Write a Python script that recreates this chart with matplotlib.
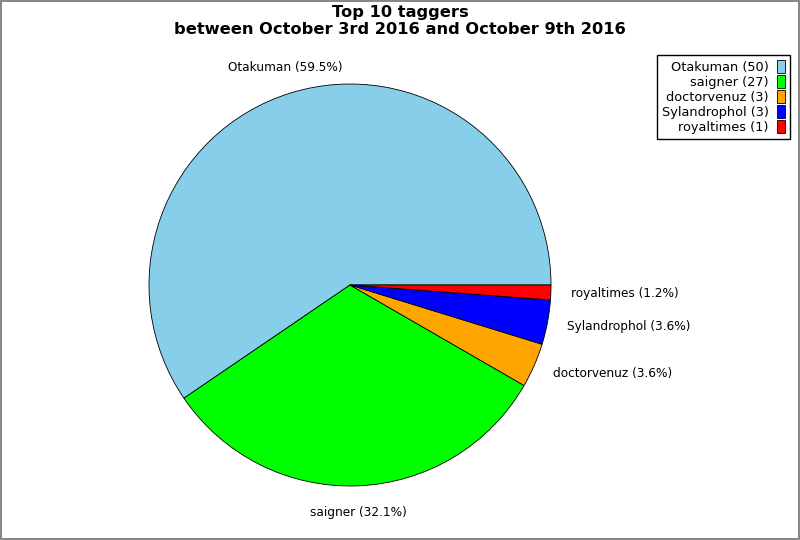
import matplotlib
matplotlib.use("Agg")
import matplotlib.pyplot as plt

names = ["Otakuman", "saigner", "doctorvenuz", "Sylandrophol", "royaltimes"]
counts = [50, 27, 3, 3, 1]
colors = ["#87CEEB", "#00FF00", "#FFA500", "#0000FF", "#FF0000"]
title = "Top 10 taggers\nbetween October 3rd 2016 and October 9th 2016"

total = sum(counts)
labels = [f"{n} ({c / total * 100:.1f}%)" for n, c in zip(names, counts)]
legend_labels = [f"{n} ({c})" for n, c in zip(names, counts)]

fig = plt.figure(figsize=(8, 5.4), dpi=100)
fig.patch.set_edgecolor("#888888")
fig.patch.set_linewidth(1.5)

ax = fig.add_axes([149 / 800, 54 / 540, 402 / 800, 402 / 540])
wedges, texts = ax.pie(counts, labels=labels, colors=colors, startangle=0,
                       counterclock=True, labeldistance=1.1,
                       wedgeprops=dict(edgecolor="black", linewidth=0.6),
                       textprops=dict(fontsize=8.7))
ax.set_xlim(-1, 1)
ax.set_ylim(-1, 1)
ax.set_aspect("equal")

texts[0].set_ha("center")
texts[0].set_va("bottom")
texts[1].set_ha("center")
texts[1].set_va("top")
for t in texts[2:]:
    t.set_ha("left")

fig.text(0.5, 0.99, title, ha="center", va="top", fontsize=11.7,
         fontweight="bold", linespacing=1.12)

leg = fig.legend(wedges, legend_labels, loc="upper right",
                 bbox_to_anchor=(790 / 800, 1 - 55 / 540), markerfirst=False,
                 fontsize=9.3, fancybox=False, edgecolor="black", framealpha=1,
                 handlelength=0.6, handleheight=1.2, handletextpad=0.65,
                 labelspacing=0.08, borderpad=0.38, borderaxespad=0)
leg.get_frame().set_linewidth(1)

fig.savefig("out.png", dpi=100, edgecolor=fig.get_edgecolor())
